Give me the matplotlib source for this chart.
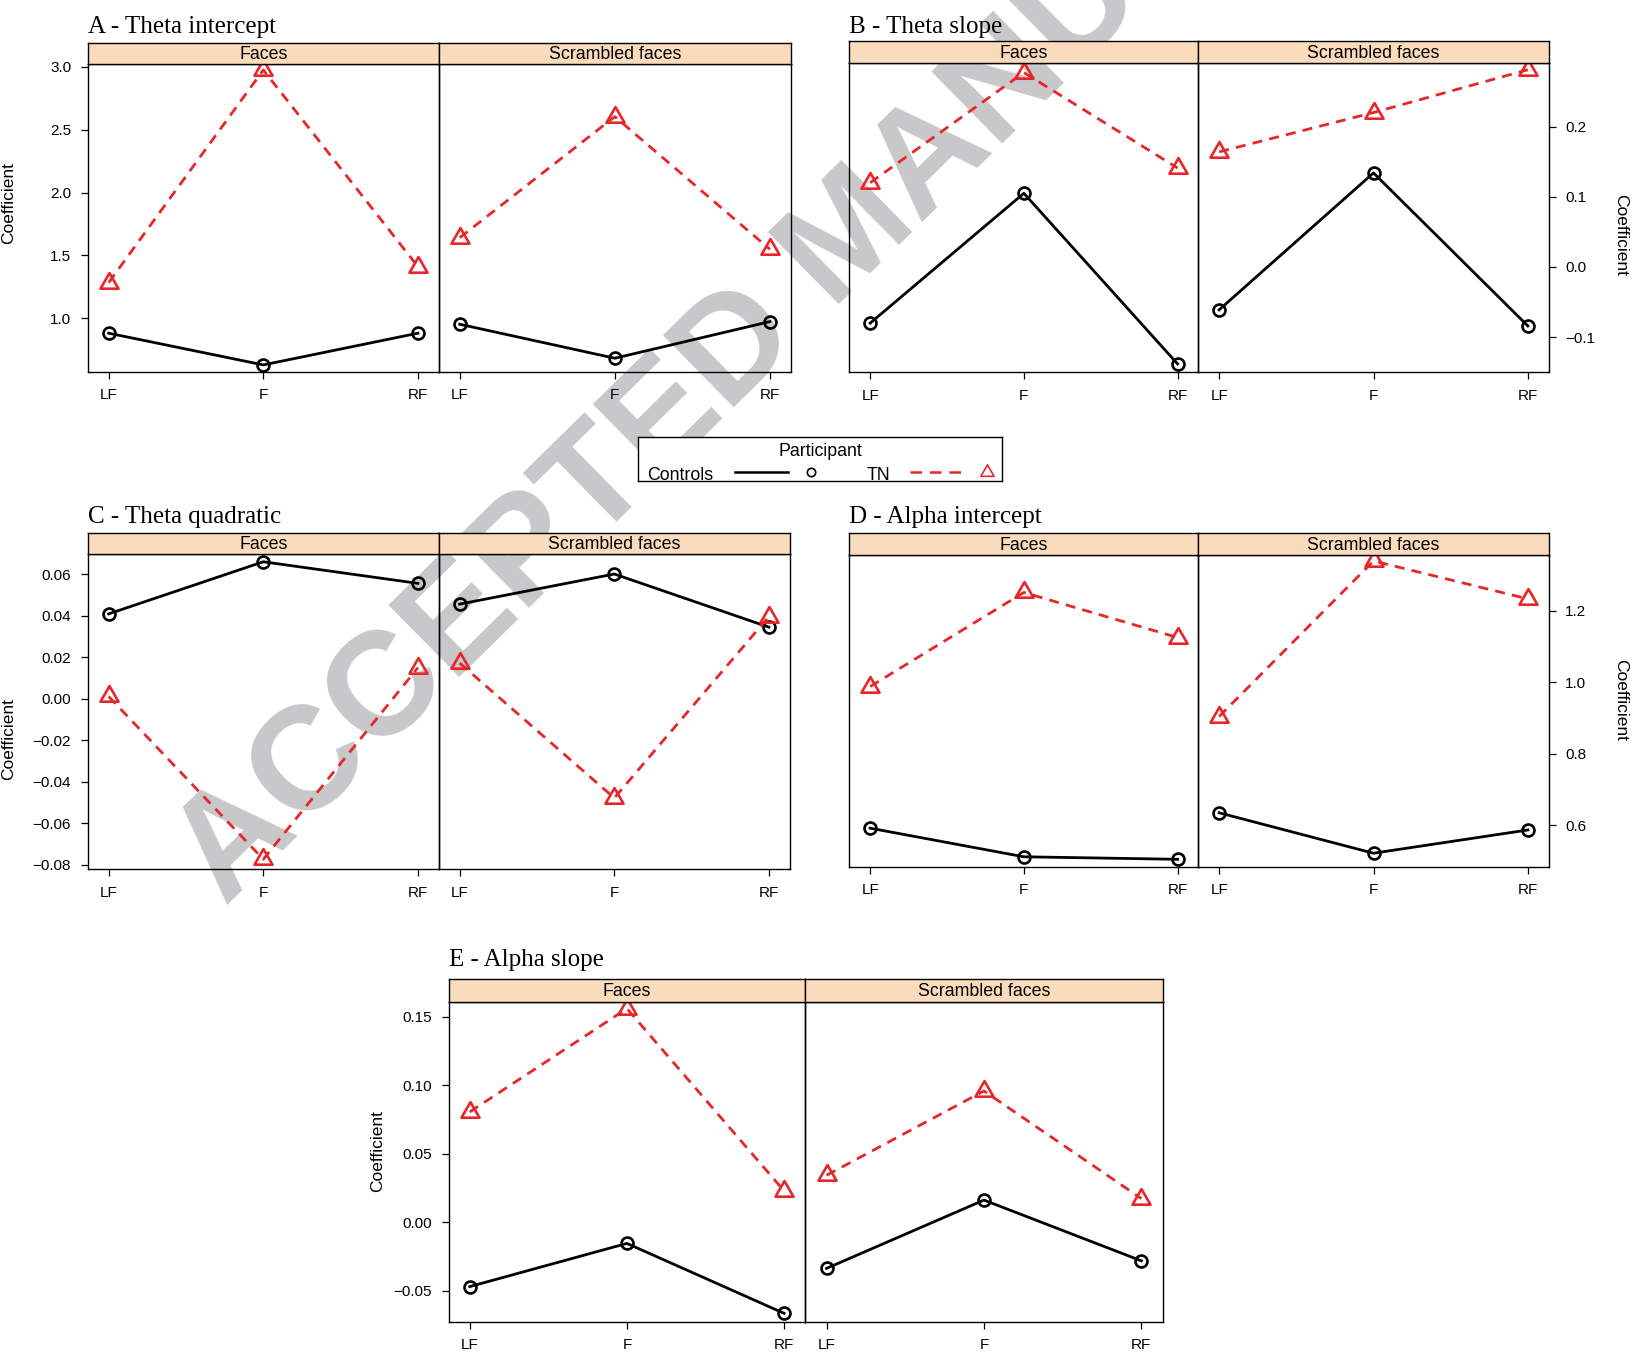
import matplotlib
matplotlib.use("Agg")
import matplotlib.pyplot as plt
from matplotlib.path import Path

plt.rcParams["font.family"] = ["Liberation Sans", "DejaVu Sans"]

# electrode sites and stimulus conditions
positions = ["LF", "F", "RF"]
conditions = ["Faces", "Scrambled faces"]

# coefficients per group, [Faces, Scrambled faces] x [LF, F, RF]
theta_int_controls = [[0.882, 0.630, 0.882], [0.953, 0.683, 0.974]]
theta_int_tn = [[1.284, 2.974, 1.411], [1.641, 2.603, 1.549]]

theta_slope_controls = [[-0.080, 0.105, -0.138], [-0.061, 0.134, -0.084]]
theta_slope_tn = [[0.120, 0.277, 0.141], [0.164, 0.220, 0.281]]

theta_quad_controls = [[0.0408, 0.0659, 0.0555], [0.0455, 0.0600, 0.0344]]
theta_quad_tn = [[0.0010, -0.0774, 0.0149], [0.0171, -0.0479, 0.0395]]

alpha_int_controls = [[0.592, 0.512, 0.505], [0.635, 0.522, 0.587]]
alpha_int_tn = [[0.988, 1.251, 1.125], [0.904, 1.339, 1.233]]

alpha_slope_controls = [[-0.0468, -0.0153, -0.0663], [-0.0335, 0.0163, -0.0280]]
alpha_slope_tn = [[0.0806, 0.1560, 0.0230], [0.0344, 0.0959, 0.0174]]

W, H = 1632, 1359
RED = "#E8262A"
STRIP = "#FADCBC"
tri = Path([(-1, -0.577), (1, -0.577), (0, 1.155), (-1, -0.577)],
           [Path.MOVETO, Path.LINETO, Path.LINETO, Path.CLOSEPOLY])

fig = plt.figure(figsize=(W / 100, H / 100), dpi=100)


def frac(x0, y0, x1, y1):
    # pixel box (top-left origin) -> figure fraction rect
    return [x0 / W, 1 - y1 / H, (x1 - x0) / W, (y1 - y0) / H]


def panel(title, ctrl, tn, box, ylim, yticks, fmt, side, ylab_xy, title_y):
    left, mid, right, s_top, s_bot, bottom = box
    xs = [1, 2, 3]
    for i, cond in enumerate(conditions):
        x0, x1 = (left, mid) if i == 0 else (mid, right)
        ax = fig.add_axes(frac(x0, s_bot, x1, bottom))
        ax.set_facecolor("none")
        ax.plot(xs, ctrl[i], color="black", lw=2.0, marker="o", ms=8.6,
                mfc="none", mew=1.9, clip_on=False, zorder=3)
        ax.plot(xs, tn[i], color=RED, lw=2.0, ls=(0, (3.6, 2.6)), marker=tri,
                ms=15, mfc="none", mew=1.9, clip_on=False, zorder=3)
        ax.set_xlim(0.865, 3.135)
        ax.set_ylim(*ylim)
        ax.set_xticks(xs)
        ax.set_xticklabels(positions)
        ax.tick_params(axis="x", direction="out", length=5, width=0.9,
                       pad=7, labelsize=11)
        for sp in ax.spines.values():
            sp.set_linewidth(1.0)
        if side == "left" and i == 0:
            ax.set_yticks(yticks)
            ax.set_yticklabels([fmt.format(v).replace("-", "\u2212") for v in yticks])
            ax.tick_params(axis="y", direction="out", length=5, width=0.9,
                           pad=7, labelsize=11)
        elif side == "right" and i == 1:
            ax.yaxis.tick_right()
            ax.set_yticks(yticks)
            ax.set_yticklabels([fmt.format(v).replace("-", "\u2212") for v in yticks])
            ax.tick_params(axis="y", direction="out", length=5, width=0.9,
                           pad=7, labelsize=11)
        else:
            ax.set_yticks([])

        sax = fig.add_axes(frac(x0, s_top, x1, s_bot))
        sax.set_facecolor(STRIP)
        sax.set_xticks([])
        sax.set_yticks([])
        for sp in sax.spines.values():
            sp.set_linewidth(1.0)
        sax.text(0.5, 0.45, cond, transform=sax.transAxes, ha="center",
                 va="center", fontsize=12.8)

    fig.text(left / W, 1 - title_y / H, title, family="Liberation Serif",
             fontsize=18, ha="left", va="baseline")
    rot = 90 if side == "left" else -90
    fig.text(ylab_xy[0] / W, 1 - ylab_xy[1] / H, "Coefficient", rotation=rot,
             ha="center", va="center", fontsize=12.5)


panel("A - Theta intercept", theta_int_controls, theta_int_tn,
      (87.8, 438.8, 790.8, 42.7, 64.3, 371.7), (0.576, 3.019),
      [1.0, 1.5, 2.0, 2.5, 3.0], "{:.1f}", "left", (9, 203), 33.3)

panel("B - Theta slope", theta_slope_controls, theta_slope_tn,
      (849.4, 1198.3, 1548.7, 41.3, 62.7, 372.3), (-0.150, 0.291),
      [-0.1, 0.0, 0.1, 0.2], "{:.1f}", "right", (1621, 235), 32.7)

panel("C - Theta quadratic", theta_quad_controls, theta_quad_tn,
      (87.8, 438.8, 789.8, 532.7, 554.3, 869.0), (-0.0821, 0.0695),
      [-0.08, -0.06, -0.04, -0.02, 0.00, 0.02, 0.04, 0.06], "{:.2f}", "left",
      (9, 739), 523.3)

panel("D - Alpha intercept", alpha_int_controls, alpha_int_tn,
      (849.4, 1198.3, 1548.7, 533.3, 555.0, 866.7), (0.4843, 1.3557),
      [0.6, 0.8, 1.0, 1.2], "{:.1f}", "right", (1621, 700), 523.3)

panel("E - Alpha slope", alpha_slope_controls, alpha_slope_tn,
      (448.5, 805.3, 1162.6, 979.0, 1001.7, 1321.7), (-0.0724, 0.161),
      [-0.05, 0.00, 0.05, 0.10, 0.15], "{:.2f}", "left", (378, 1151), 966)

# group key between the top and middle rows
lax = fig.add_axes(frac(638, 437, 1002, 481))
lax.set_xlim(638, 1002)
lax.set_ylim(481, 437)
lax.set_facecolor("white")
lax.set_xticks([])
lax.set_yticks([])
for sp in lax.spines.values():
    sp.set_linewidth(1.0)
lax.text(820, 451, "Participant", ha="center", va="center", fontsize=12.8)
lax.text(647, 479.5, "Controls", ha="left", va="baseline", fontsize=12.8)
lax.plot([735, 788], [471.7, 471.7], color="black", lw=1.8)
lax.plot([811], [471.7], marker="o", ms=6, mfc="none", mec="black", mew=1.2)
lax.text(867, 479.5, "TN", ha="left", va="baseline", fontsize=12.8)
lax.plot([910, 962], [471.7, 471.7], color=RED, lw=1.8, ls=(0, (4.6, 3.2)))
lax.plot([987], [471.7], marker=tri, ms=11, mfc="none", mec=RED, mew=1.2)

fig.text(852 / W, 1 - 238 / H, "ACCEPTED MANUSCRIPT", rotation=44.5,
         rotation_mode="anchor", ha="center", va="center", fontsize=106,
         fontweight="bold", color="#C8C8CA", zorder=-1)

fig.savefig("out.png", dpi=100)
